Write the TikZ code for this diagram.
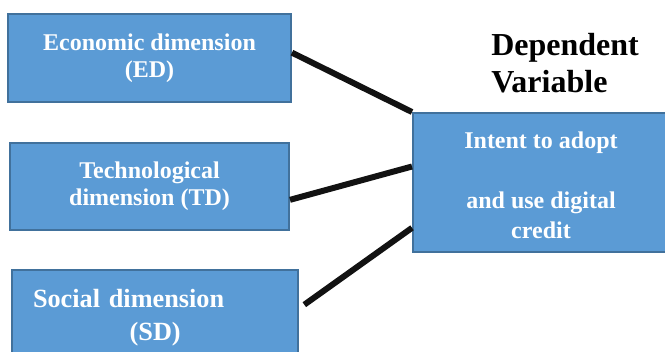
\documentclass[tikz,border=0pt]{standalone}
\usepackage{fontspec}
\setmainfont{Liberation Serif}
\usetikzlibrary{positioning}
\definecolor{boxblue}{HTML}{5B9BD5}
\definecolor{boxedge}{HTML}{41719C}

\begin{document}
\begin{tikzpicture}[
	x=0.75pt, y=-0.75pt,
	dimbox/.style={draw=boxedge, line width=1.5pt, fill=boxblue, text=white, align=center,
		font=\bfseries\fontsize{18}{20.25}\selectfont},
	link/.style={line width=4.5pt, black!93},
	heading/.style={font=\bfseries\fontsize{24}{27.75}\selectfont, align=left, inner sep=0pt}
]
\useasboundingbox (0,0) rectangle (665,351);
\clip (0,0) rectangle (665,351);

% independent dimensions
\node[dimbox, minimum width=212.25pt, minimum height=66pt] (ed) at (149.5,58) {Economic dimension\\(ED)};
\node[dimbox, minimum width=209.25pt, minimum height=65.25pt] (td) at (149.5,186.5) {Technological\\dimension (TD)};
\node[dimbox, minimum width=214.5pt, minimum height=72pt, text width=183pt, inner xsep=15.75pt, align=left,
	font=\bfseries\fontsize{19.7}{24.75}\selectfont] (sd) at (155,318) {Social dimension\\\hspace*{72.5pt}(SD)};

% dependent variable
\node[heading, anchor=base west] (dv) at (491,92) {Dependent\\Variable};
\node[dimbox, minimum width=192pt, minimum height=104.25pt, font=\bfseries\fontsize{18}{22.5}\selectfont]
	(intent) at (541,182.5) {\rule{0pt}{17pt}Intent to adopt\\\mbox{}\\and use digital\\credit};

\draw[link] ([yshift=4pt]ed.east) -- (intent.north west);
\draw[link] ([yshift=-10pt]td.east) -- ([yshift=12pt]intent.west);
\draw[link] ([xshift=4pt, yshift=10pt]sd.east) -- ([yshift=-34pt]intent.west);
\end{tikzpicture}
\end{document}
